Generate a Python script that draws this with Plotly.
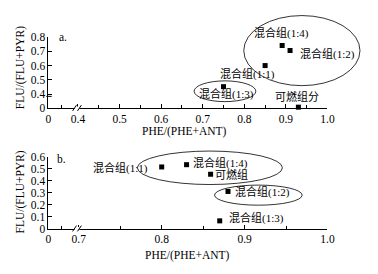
import plotly.graph_objects as go

W, H = 378, 274

# ---- data (panel a) ----
a_names = ["混合组(1:4)", "混合组(1:2)", "混合组(1:1)", "混合组(1:3)", "可燃组分"]
a_x = [0.891, 0.910, 0.850, 0.750, 0.930]
a_y = [0.740, 0.705, 0.600, 0.453, 0.310]
a_xticks = [0.329, 0.4, 0.5, 0.6, 0.7, 0.8, 0.9, 1.0]
a_xticktext = ["0", "0.4", "0.5", "0.6", "0.7", "0.8", "0.9", "1.0"]
a_yticks = [0.304, 0.4, 0.5, 0.6, 0.7, 0.8]
a_yticktext = ["0", "0.4", "0.5", "0.6", "0.7", "0.8"]

# ---- data (panel b) ----
b_names = ["混合组(1:1)", "混合组(1:4)", "可燃组", "混合组(1:2)", "混合组(1:3)"]
b_x = [0.800, 0.830, 0.859, 0.880, 0.870]
b_y = [0.515, 0.534, 0.454, 0.310, 0.064]
b_xticks = [0.6634, 0.7, 0.8, 0.9, 1.0]
b_xticktext = ["0", "0.7", "0.8", "0.9", "1.0"]
b_yticks = [0, 0.1, 0.2, 0.3, 0.4, 0.5, 0.6]
b_yticktext = ["0", "0.1", "0.2", "0.3", "0.4", "0.5", "0.6"]


def px(x):
    return x / W


def py(y):
    return 1 - y / H


SERIF = "Liberation Serif, Times New Roman, serif"
CJK = "Liberation Serif, Noto Sans CJK SC, serif"
FS = 11.5

fig = go.Figure()
fig.add_trace(go.Scatter(x=a_x, y=a_y, mode="markers", xaxis="x", yaxis="y",
                         marker=dict(symbol="square", size=5, color="black"),
                         cliponaxis=False, showlegend=False, hoverinfo="skip"))
fig.add_trace(go.Scatter(x=b_x, y=b_y, mode="markers", xaxis="x2", yaxis="y2",
                         marker=dict(symbol="square", size=5, color="black"),
                         cliponaxis=False, showlegend=False, hoverinfo="skip"))

ax_common = dict(showline=True, linecolor="black", linewidth=1, ticks="inside",
                 ticklen=4, tickwidth=1, tickcolor="black", showgrid=False,
                 zeroline=False, tickmode="array",
                 tickfont=dict(family=SERIF, size=FS, color="black"))

xdom = [px(46.7), px(333.3)]
fig.update_layout(
    width=W, height=H, margin=dict(l=0, r=0, t=0, b=0),
    paper_bgcolor="white", plot_bgcolor="white",
    xaxis=dict(domain=xdom, range=[0.329, 1.0], anchor="y", tickvals=a_xticks,
               ticktext=a_xticktext,
               minor=dict(tickmode="array", tickvals=[0.36, 0.45, 0.55, 0.65, 0.75, 0.85, 0.95],
                          ticks="inside", ticklen=3, tickcolor="black"),
               **ax_common),
    yaxis=dict(domain=[py(106.7), py(32.3)], range=[0.304, 0.8], anchor="x",
               tickvals=a_yticks, ticktext=a_yticktext, **ax_common),
    xaxis2=dict(domain=xdom, range=[0.6634, 1.0], anchor="y2", tickvals=b_xticks,
                ticktext=b_xticktext,
                minor=dict(tickmode="array", tickvals=[0.679, 0.75, 0.85, 0.95],
                           ticks="inside", ticklen=3, tickcolor="black"),
                **ax_common),
    yaxis2=dict(domain=[py(232.7), py(157.7)], range=[0, 0.6], anchor="x2",
                tickvals=b_yticks, ticktext=b_yticktext, **ax_common),
)

anns = []


def label(text, cx, cy, size=11, family=CJK):
    anns.append(dict(text=text, x=px(cx), y=py(cy), xref="paper", yref="paper",
                     xanchor="center", yanchor="middle", showarrow=False,
                     font=dict(family=family, size=size, color="black")))


# panel a labels
label(a_names[0], 286.5, 28)
label(a_names[1], 333.3, 50)
label(a_names[2], 251.3, 71)
label(a_names[3], 230, 92.3)
label(a_names[4], 302.3, 95)
label("a.", 62, 32, FS, SERIF)
# panel b labels
label(b_names[0], 120.3, 169.3)
label(b_names[1], 223.7, 164)
label(b_names[2], 234.5, 176.7)
label(b_names[3], 267, 195)
label(b_names[4], 260.7, 222)
label("b.", 60, 160.3, FS, SERIF)

# axis titles
label("PHE/(PHE+ANT)", 186, 131, FS, SERIF)
label("PHE/(PHE+ANT)", 189, 261, FS, SERIF)
for cy in (64.5, 194.5):
    anns.append(dict(text="FLU/(FLU+PYR)", x=px(18), y=py(cy), xref="paper", yref="paper",
                     xanchor="center", yanchor="middle", showarrow=False, textangle=-90,
                     font=dict(family=SERIF, size=FS, color="black")))
fig.update_layout(annotations=anns)

shapes = []


def ellipse(x0, x1, y0, y1):
    shapes.append(dict(type="circle", xref="paper", yref="paper",
                       x0=px(x0), x1=px(x1), y0=py(y1), y1=py(y0),
                       line=dict(color="black", width=0.8)))


ellipse(247.3, 366.7, 10, 83.3)
ellipse(196.3, 259.7, 78.3, 100)
ellipse(138, 287, 151.7, 186.7)
ellipse(217.3, 307.3, 187.3, 208.3)


def seg(x0, y0, x1, y1, w=1, c="black"):
    shapes.append(dict(type="line", xref="paper", yref="paper",
                       x0=px(x0), y0=py(y0), x1=px(x1), y1=py(y1),
                       line=dict(color=c, width=w)))


# axis break marks
for axy in (106.7, 232.7):
    seg(73.5, axy, 78.5, axy, 3, "white")
    seg(71.5, axy + 3, 75.5, axy - 3)
    seg(76.5, axy + 3, 80.5, axy - 3)
seg(44.5, 94.5, 50, 94.5)

fig.update_layout(shapes=shapes)
fig.write_html("out.html", config={"displayModeBar": False, "staticPlot": True},
               post_script="document.body.style.margin='0';document.body.style.overflow='hidden';")
